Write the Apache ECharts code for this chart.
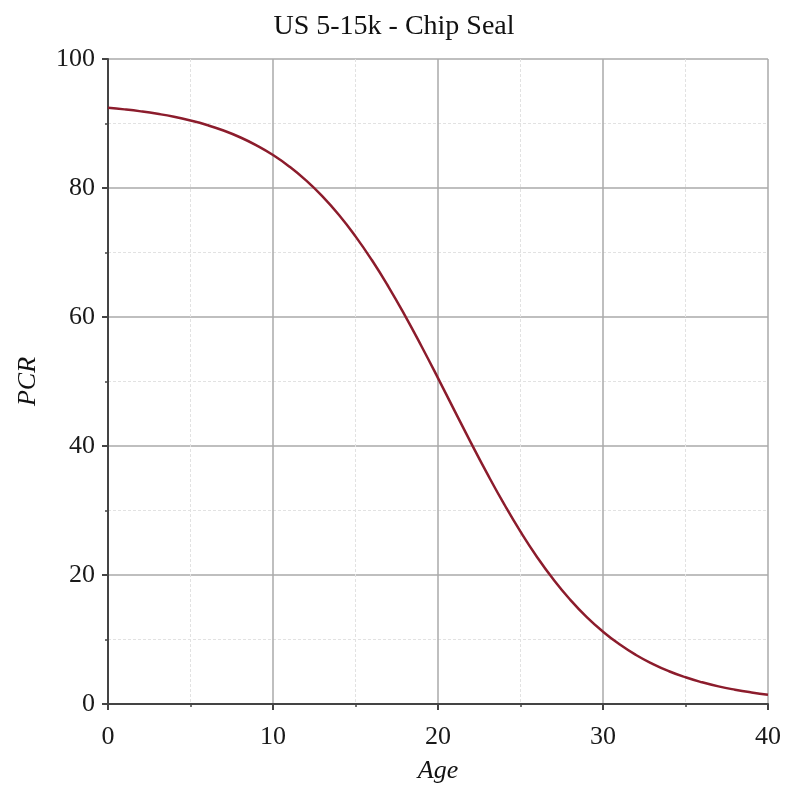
<!DOCTYPE html>
<html>
<head>
<meta charset="utf-8">
<script src="https://cdn.jsdelivr.net/npm/echarts@6/dist/echarts.min.js"></script>
<style>html,body{margin:0;padding:0;background:#fff}#c{width:788px;height:790px}</style>
</head>
<body>
<div id="c"></div>
<script>
const titleText = "US 5-15k - Chip Seal";
const xName = "Age";
const yName = "PCR";
const ages = [0,1,2,3,4,5,6,7,8,9,10,11,12,13,14,15,16,17,18,19,20,21,22,23,24,25,26,27,28,29,30,31,32,33,34,35,36,37,38,39,40];
const pcr = [92.44,92.19,91.88,91.50,91.04,90.46,89.76,88.91,87.87,86.61,85.11,83.31,81.18,78.69,75.81,72.50,68.79,64.68,60.21,55.46,50.53,45.49,40.49,35.63,31.02,26.72,22.80,19.29,16.20,13.51,11.21,9.25,7.60,6.23,5.08,4.14,3.37,2.73,2.22,1.80,1.45];

const serif = "Liberation Serif";
const chart = echarts.init(document.getElementById('c'));
const axisCommon = {
  axisLine: {show: true, onZero: false, lineStyle: {color: '#444', width: 2}},
  axisTick: {show: true, length: 6, lineStyle: {color: '#444', width: 2}},
  minorTick: {show: true, splitNumber: 2, length: 3, lineStyle: {color: '#444', width: 1.5}},
  splitLine: {show: true, lineStyle: {color: '#aaaaaa', width: 1.5}},
  minorSplitLine: {show: true, lineStyle: {color: '#e2e2e2', width: 1, type: [3, 2]}},
  axisLabel: {fontFamily: serif, fontSize: 26, color: '#1a1a1a'}
};
chart.setOption({
  animation: false,
  title: {text: titleText, left: 'center', top: 8, textStyle: {fontFamily: serif, fontSize: 28, fontWeight: 'normal', color: '#111'}},
  grid: {left: 108, right: 20, top: 59, bottom: 86, containLabel: false},
  xAxis: Object.assign({}, axisCommon, {
    type: 'value', min: 0, max: 40, interval: 10,
    name: xName, nameLocation: 'middle', nameGap: 54,
    nameTextStyle: {fontFamily: serif, fontSize: 26, fontStyle: 'italic', color: '#111'},
    axisLabel: Object.assign({}, axisCommon.axisLabel, {margin: 20})
  }),
  yAxis: Object.assign({}, axisCommon, {
    type: 'value', min: 0, max: 100, interval: 20,
    name: yName, nameLocation: 'middle', nameGap: 67, nameRotate: 90,
    nameTextStyle: {fontFamily: serif, fontSize: 26, fontStyle: 'italic', color: '#111'},
    axisLabel: Object.assign({}, axisCommon.axisLabel, {margin: 13})
  }),
  series: [{
    type: 'line', data: ages.map((a, i) => [a, pcr[i]]), smooth: true, showSymbol: false,
    lineStyle: {color: '#8c1c2c', width: 2.5}
  }]
});
</script>
</body>
</html>
